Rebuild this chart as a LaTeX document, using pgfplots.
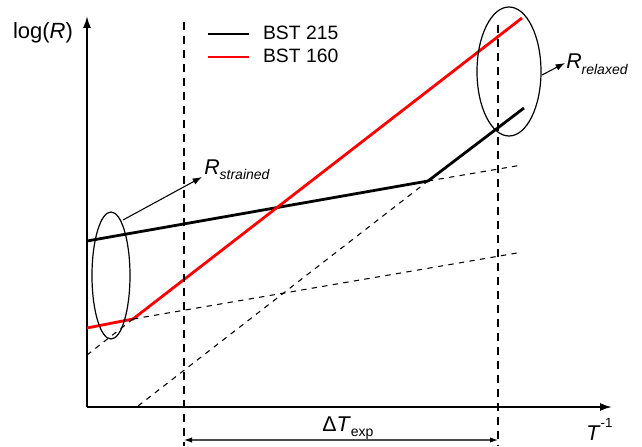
\documentclass[border=0pt]{standalone}
\usepackage{pgfplots}
\pgfplotsset{compat=1.18}
\usepackage{fontspec}
\setmainfont{Liberation Sans}
\usetikzlibrary{arrows.meta}
\begin{document}
\begin{tikzpicture}
\begin{axis}[
  x=0.75pt, y=0.75pt,
  xmin=0, xmax=525, ymin=0, ymax=391,
  axis lines=left,
  axis line style={line width=1.4pt, -{Latex[length=9pt,width=6pt]}},
  xtick=\empty, ytick=\empty,
  clip=false,
  legend style={draw=none, fill=none, at={(axis cs:119,361.5)}, anchor=west,
    font=\fontsize{14.5}{16}\selectfont, row sep=1.5pt, inner sep=0pt,
    nodes={inner sep=2pt},
    /tikz/every odd column/.append style={column sep=7.5pt}},
  legend image code/.code={\draw[#1] (0pt,0pt) -- (31pt,0pt);},
  legend cell align=left,
]
% invisible frame that fixes the picture's extent
\path (axis cs:-87,-39) rectangle (axis cs:555,407);

\addplot[black, line width=2.1pt] coordinates {(0,166) (341,226) (437,299)};
\addlegendentry{BST 215}
\addplot[red, line width=2.1pt] coordinates {(0,79) (46,88) (435,389)};
\addlegendentry{BST 160}

% extrapolations
\addplot[forget plot, black, line width=0.8pt, dash pattern=on 4pt off 4pt] coordinates {(51,1) (341,226)};
\addplot[forget plot, black, line width=0.8pt, dash pattern=on 4pt off 4pt] coordinates {(341,226) (435,242)};
\addplot[forget plot, black, line width=0.8pt, dash pattern=on 4pt off 4pt] coordinates {(46,88) (430,154)};
\addplot[forget plot, black, line width=0.8pt, dash pattern=on 4pt off 4pt] coordinates {(0,52) (46,88)};

% experimental window
\addplot[forget plot, black, line width=1.3pt, dash pattern=on 6pt off 4.5pt] coordinates {(97,385) (97,-39)};
\addplot[forget plot, black, line width=1.3pt, dash pattern=on 6pt off 4.5pt] coordinates {(411,382) (411,-39)};
\draw[gray!60!black, line width=0.8pt, {Latex[black,length=6pt,width=4pt]}-{Latex[black,length=6pt,width=4pt]}]
  (axis cs:97,-33) -- (axis cs:411,-33);
\node[anchor=base west, inner sep=0pt, font=\fontsize{16}{18}\selectfont] at (axis cs:235,-24) {Δ\textit{T}\raisebox{-0.5ex}{\fontsize{10.5}{12}\selectfont exp}};

% ellipses
\draw[black, line width=0.9pt] (axis cs:24,131.5) ellipse [x radius=19, y radius=63.5];
\draw[black, line width=0.9pt] (axis cs:422,335.5) ellipse [x radius=32, y radius=64.5];

% annotations
\draw[black, line width=0.8pt, -{Latex[length=7pt,width=5pt]}] (axis cs:36,187) -- (axis cs:115,230);
\node[anchor=base west, inner sep=0pt, font=\fontsize{16}{18}\selectfont] at (axis cs:117,233) {\textit{R}\raisebox{-0.5ex}{\fontsize{10.5}{12}\selectfont\textit{strained}}};
\draw[black, line width=0.8pt, -{Latex[length=7pt,width=5pt]}] (axis cs:455,332) -- (axis cs:478,344);
\node[anchor=base west, inner sep=0pt, font=\fontsize{16}{18}\selectfont] at (axis cs:479,338) {\textit{R}\raisebox{-0.5ex}{\fontsize{10.5}{12}\selectfont\textit{relaxed}}};

% axis labels
\node[font=\fontsize{16.5}{18}\selectfont] at (axis cs:-44,374) {log(\textit{R})};
\node[anchor=base west, inner sep=0pt, font=\fontsize{16}{18}\selectfont] at (axis cs:499,-33) {\textit{T}\raisebox{1.1ex}{\fontsize{10}{12}\selectfont -1}};
\end{axis}
\end{tikzpicture}
\end{document}
